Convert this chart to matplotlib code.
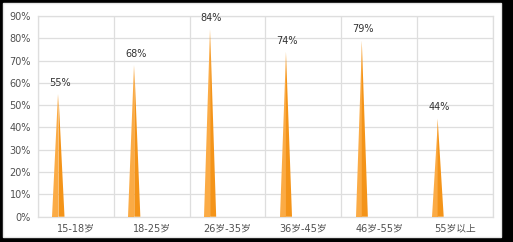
import matplotlib.pyplot as plt
from matplotlib.patches import Rectangle
from matplotlib.ticker import FuncFormatter

plt.rcParams['font.family'] = ['DejaVu Sans', 'Noto Sans CJK SC']

categories = ["15-18岁", "18-25岁", "26岁-35岁", "36岁-45岁", "46岁-55岁", "55岁以上"]
values = [55, 68, 84, 74, 79, 44]
value_labels = ["55%", "68%", "84%", "74%", "79%", "44%"]

light = "#fbab45"
dark = "#f49419"
grid_col = "#dedede"
text_col = "#505050"

fig = plt.figure(figsize=(5.13, 2.42), dpi=100)
fig.patch.set_facecolor("black")
# white card with a dark shadow frame
fig.patches.append(Rectangle((3 / 513, 5 / 242), 498 / 513, 234 / 242,
                             transform=fig.transFigure, facecolor="white",
                             edgecolor="#e6e6e6", lw=1.0, zorder=-5))

ax = fig.add_axes([0.074, 0.1045, 0.887, 0.8295])
ax.set_zorder(2)
ax.set_facecolor("white")

n = len(categories)
offset = 0.27   # spike sits left of the category centre
half_w = 0.08
for i, v in enumerate(values):
    cx = i + offset
    ax.fill([cx - half_w, cx, cx], [0, 0, v], color=light, lw=0, zorder=3)
    ax.fill([cx, cx + half_w, cx], [0, 0, v], color=dark, lw=0, zorder=3)
    ax.annotate(value_labels[i], (cx, v), xytext=(1, 8), textcoords="offset points",
                ha="center", va="center", fontsize=7, color="#333333", zorder=4)

ax.set_xlim(0, n)
ax.set_ylim(0, 90)
ax.set_yticks(range(0, 91, 10))
ax.yaxis.set_major_formatter(FuncFormatter(lambda y, p: f"{int(y)}%"))
ax.set_xticks([i + 0.5 for i in range(n)])
ax.set_xticklabels(categories)
ax.set_xticks(range(n + 1), minor=True)

ax.grid(axis="y", which="major", color=grid_col, lw=0.9)
ax.grid(axis="x", which="minor", color=grid_col, lw=0.9)
ax.set_axisbelow(True)
ax.tick_params(axis="both", which="both", length=0, labelsize=7, colors=text_col)
ax.tick_params(axis="x", pad=5)
ax.tick_params(axis="y", pad=5)
for s in ax.spines.values():
    s.set_color(grid_col)
    s.set_linewidth(0.9)

fig.savefig("out.png", dpi=100, facecolor=fig.get_facecolor())
